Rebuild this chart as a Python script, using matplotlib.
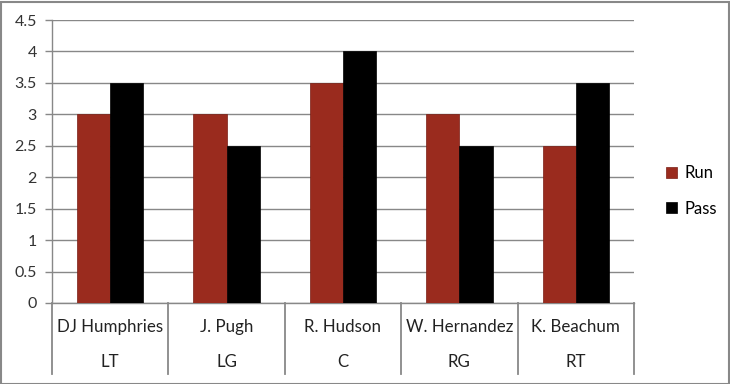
import matplotlib
matplotlib.use("Agg")
import matplotlib.pyplot as plt
from matplotlib.patches import Rectangle
import matplotlib.transforms as mtransforms

players = ["DJ Humphries", "J. Pugh", "R. Hudson", "W. Hernandez", "K. Beachum"]
positions = ["LT", "LG", "C", "RG", "RT"]
run = [3, 3, 3.5, 3, 2.5]
pass_ = [3.5, 2.5, 4, 2.5, 3.5]
yticks = [0, 0.5, 1, 1.5, 2, 2.5, 3, 3.5, 4, 4.5]

plt.rcParams['font.family'] = ['Lato', 'DejaVu Sans']
W, H = 730, 384
fig = plt.figure(figsize=(W / 100, H / 100), dpi=100)
ax = fig.add_axes([52 / W, (H - 303) / H, (634 - 52) / W, (303 - 20) / H])

red = '#9A2B1E'
gray = '#888888'
bw = 1 / 3.5
x = list(range(len(players)))
ax.bar([i - bw / 2 for i in x], run, width=bw, color=red, edgecolor='#7a1e14', linewidth=0.5, label='Run', zorder=3)
ax.bar([i + bw / 2 for i in x], pass_, width=bw, color='black', edgecolor='black', linewidth=0.5, label='Pass', zorder=3)

ax.set_xlim(-0.5, len(players) - 0.5)
ax.set_ylim(0, 4.5)
ax.set_yticks(yticks)
ax.set_yticklabels([f"{v:g}" for v in yticks], fontsize=11.5, color='#333333')
ax.yaxis.grid(True, color=gray, linewidth=1, zorder=0)
ax.tick_params(axis='y', length=5, width=1, color=gray, pad=6)
ax.tick_params(axis='x', length=0, labelbottom=False)
for s in ['top', 'right']:
    ax.spines[s].set_visible(False)
ax.spines['left'].set_color(gray)
ax.spines['bottom'].set_color(gray)
ax.spines['left'].set_linewidth(1)
ax.spines['bottom'].set_linewidth(1)

trans = mtransforms.blended_transform_factory(ax.transData, ax.transAxes)
for b in [i - 0.5 for i in range(len(players) + 1)]:
    ax.plot([b, b], [0, -71 / 283], transform=trans, color=gray, linewidth=1.3, clip_on=False)
for i, (p, pos) in enumerate(zip(players, positions)):
    ax.text(i, -24 / 283, p, transform=trans, ha='center', va='center', fontsize=12.2, color='#222222')
    ax.text(i, -59 / 283, pos, transform=trans, ha='center', va='center', fontsize=12.2, color='#222222')

leg = fig.legend(loc='center left', bbox_to_anchor=(651 / W, 1 - 191 / H), frameon=False,
                 fontsize=12, handlelength=0.65, handleheight=0.65, handletextpad=0.45, labelspacing=1.15)

fig.patches.append(Rectangle((0.5 / W, 0.5 / H), 1 - 2 / W, 1 - 2 / H, transform=fig.transFigure,
                             fill=False, edgecolor=gray, linewidth=1.5))
fig.savefig("out.png", dpi=100)
